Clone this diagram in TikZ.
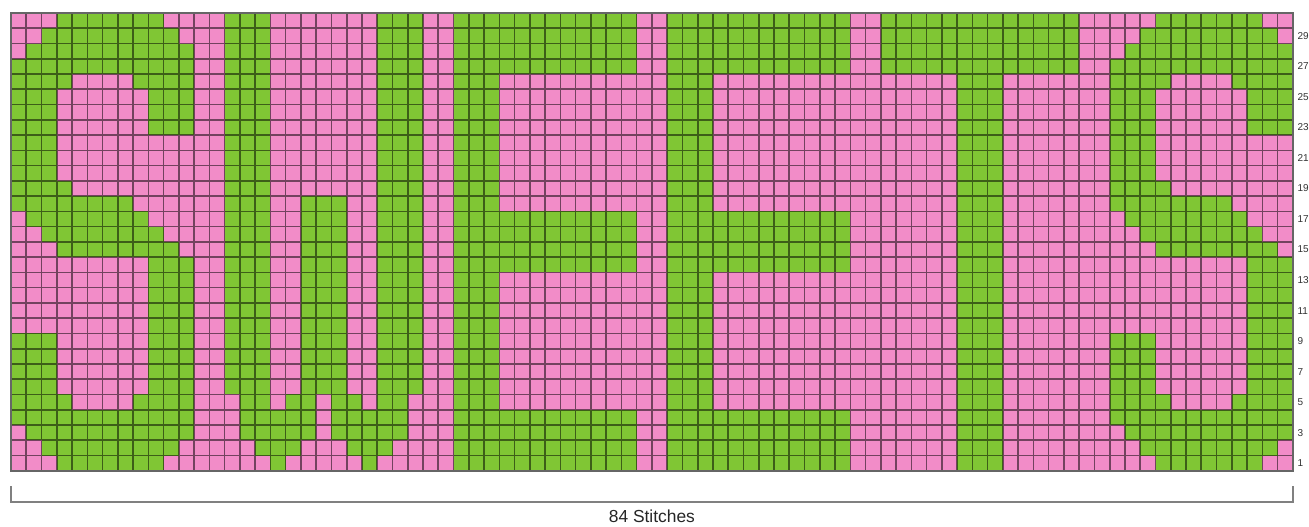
\documentclass[tikz,border=0pt]{standalone}
\usepackage{fontspec}
\newfontfamily\chartfont{Liberation Sans}
\usetikzlibrary{positioning}
\definecolor{knitpink}{RGB}{242,140,200}
\definecolor{knitgreen}{RGB}{128,198,52}
\tikzset{
  pinkcell/.style={fill=knitpink},
  greencell/.style={fill=knitgreen},
  gridlines/.style={draw=black, opacity=0.52, line width=0.8pt},
  rowlabel/.style={font=\chartfont\fontsize{5}{6}\selectfont, anchor=west, inner sep=0pt, text=black!80},
  stitchlabel/.style={font=\chartfont\fontsize{8.7}{10}\selectfont, inner sep=0pt, text=black!85},
  bracket/.style={draw=black!50, line width=0.8pt},
}

\begin{document}
\begin{tikzpicture}[x=7.63pt, y=-7.63pt]
  \useasboundingbox (-0.721,-0.852) rectangle (85.06,33.68);
  \fill[white] (-0.721,-0.852) rectangle (85.06,33.68);
  \fill[pinkcell] (0,0) rectangle (84,30);
  % green stitches: first row / last row / column runs
  \foreach \ra/\rb/\runs in {
    1/1/{4/10,15/17,25/27,30/41,44/55,58/70,76/82},
    2/2/{3/11,15/17,25/27,30/41,44/55,58/70,75/83},
    3/3/{2/12,15/17,25/27,30/41,44/55,58/70,74/84},
    4/4/{1/12,15/17,25/27,30/41,44/55,58/70,73/84},
    5/5/{1/4,9/12,15/17,25/27,30/32,44/46,63/65,73/76,81/84},
    6/8/{1/3,10/12,15/17,25/27,30/32,44/46,63/65,73/75,82/84},
    9/11/{1/3,15/17,25/27,30/32,44/46,63/65,73/75},
    12/12/{1/4,15/17,25/27,30/32,44/46,63/65,73/76},
    13/13/{1/8,15/17,20/22,25/27,30/32,44/46,63/65,73/80},
    14/14/{2/9,15/17,20/22,25/27,30/41,44/55,63/65,74/81},
    15/15/{3/10,15/17,20/22,25/27,30/41,44/55,63/65,75/82},
    16/16/{4/11,15/17,20/22,25/27,30/41,44/55,63/65,76/83},
    17/17/{10/12,15/17,20/22,25/27,30/41,44/55,63/65,82/84},
    18/21/{10/12,15/17,20/22,25/27,30/32,44/46,63/65,82/84},
    22/25/{1/3,10/12,15/17,20/22,25/27,30/32,44/46,63/65,73/75,82/84},
    26/26/{1/4,9/12,16/17,19/20,22/23,25/26,30/32,44/46,63/65,73/76,81/84},
    27/27/{1/12,16/20,22/26,30/41,44/55,63/65,73/84},
    28/28/{2/12,16/20,22/26,30/41,44/55,63/65,74/84},
    29/29/{3/11,17/19,23/25,30/41,44/55,63/65,75/83},
    30/30/{4/10,18/18,24/24,30/41,44/55,63/65,76/82}}{
    \foreach \ca/\cb in \runs
      \fill[greencell] (\ca-1,\ra-1) rectangle (\cb,\rb);
  }
  % one cell per stitch
  \draw[gridlines]
    \foreach \c in {1,...,83} {(\c,0) -- (\c,30)}
    \foreach \r in {1,...,29} {(0,\r) -- (84,\r)};
  \draw[black!60, line width=0.8pt] (0,0) rectangle (84,30);
  % row numbers
  \foreach \r [evaluate=\r as \n using int(31-\r)] in {2,4,...,30}
    \node[rowlabel] (row\n) at (84.28,\r-0.5) {\n};
  % stitch count
  \coordinate (bl) at (0,32.04);
  \coordinate (br) at (84,32.04);
  \draw[bracket] (0,31.0) -- (bl) -- (br) -- (84,31.0);
  \node[stitchlabel] (stitches) at (42,33.0) {84 Stitches};
\end{tikzpicture}
\end{document}
